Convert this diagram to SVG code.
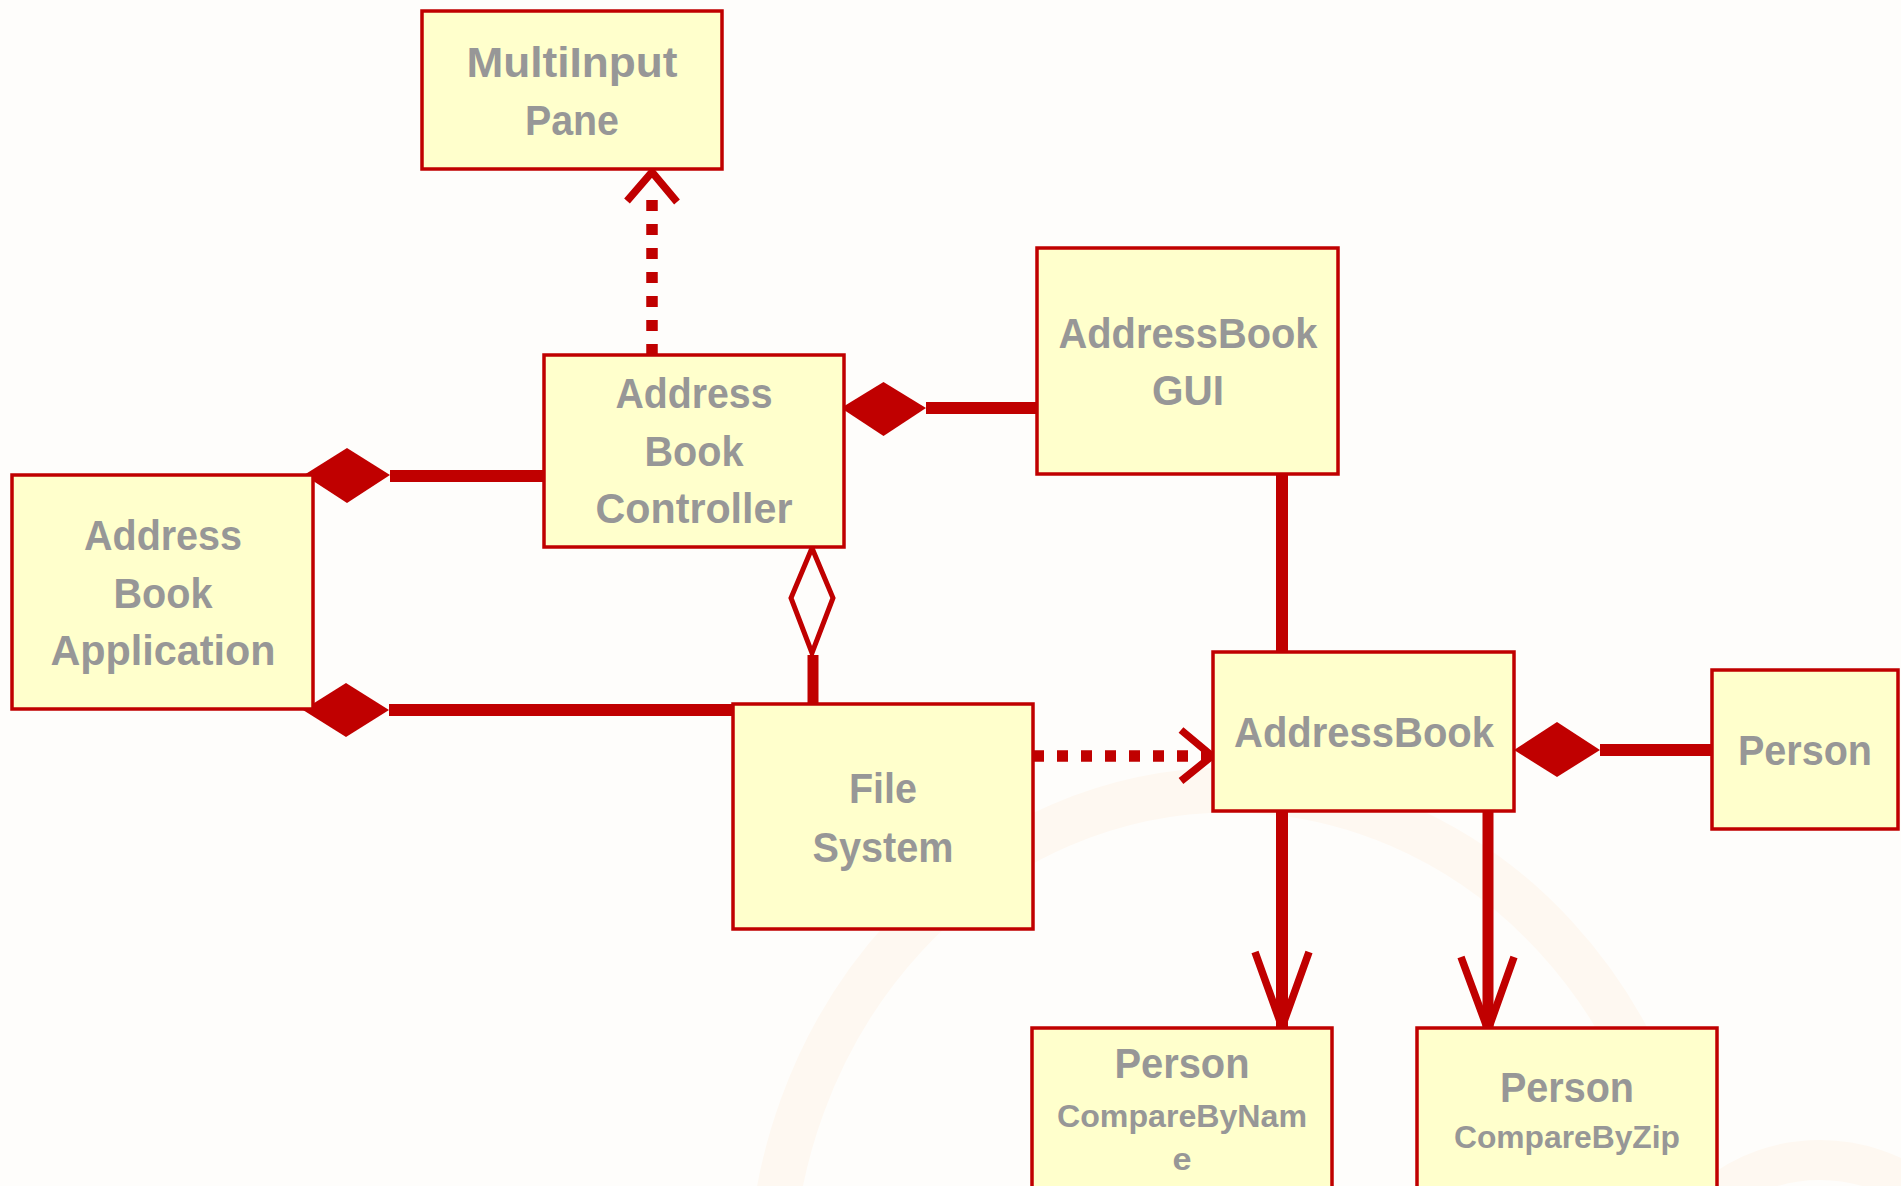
<svg xmlns="http://www.w3.org/2000/svg" width="1901" height="1186" viewBox="0 0 1901 1186">
<style>
.box{fill:#FFFFCC;stroke:#C00000;stroke-width:3.5}
.t{font-family:"Liberation Sans",Arial,sans-serif;font-weight:bold;font-size:42px;fill:#979797;text-anchor:middle}
.s{font-size:32px}
.ln{stroke:#C00000;stroke-width:12;fill:none}
.dash{stroke:#C00000;stroke-width:11.5;fill:none;stroke-dasharray:11 13}
.arm{stroke:#C00000;stroke-width:7.5;fill:none;stroke-linejoin:miter}
.dia{fill:#C00000;stroke:none}
.odia{fill:none;stroke:#C00000;stroke-width:5}
</style>
<rect width="1901" height="1186" fill="#FEFDFB"/>
<ellipse cx="1230" cy="1290" rx="460" ry="500" fill="none" stroke="#FEF8F1" stroke-width="45"/>
<ellipse cx="1820" cy="1290" rx="150" ry="130" fill="none" stroke="#FEF8F1" stroke-width="40"/>

<g id="connectors">
  <path class="dash" d="M652 355 V200"/>
  <polyline class="arm" points="627,201 652,172 677,202"/>
  <path class="ln" d="M390 476 H544"/>
  <polygon class="dia" points="304,475 347,448 390,475 347,503"/>
  <path class="ln" d="M389 710 H733"/>
  <polygon class="dia" points="303,710 346,683 389,710 346,737"/>
  <path class="ln" d="M926 408 H1037"/>
  <polygon class="dia" points="841,408 883.5,382 926,408 883.5,436"/>
  <path class="ln" d="M1600 750 H1712"/>
  <polygon class="dia" points="1514,750 1557,722 1600,750 1557,777"/>
  <path class="ln" d="M813 655 V704" style="stroke-width:11"/>
  <polygon class="odia" points="812,548 791,598 812,653 833,598"/>
  <path class="dash" d="M1033 756 H1208"/>
  <polyline class="arm" points="1181,730 1212,756 1181,781"/>
  <path class="ln" d="M1282 474 V652"/>
  <path class="ln" d="M1282 811 V1027"/>
  <polyline class="arm" points="1255,952 1282,1027 1309,952"/>
  <path class="ln" d="M1488 811 V1030" style="stroke-width:11"/>
  <polyline class="arm" points="1461,957 1488,1030 1514,957"/>
</g>

<g id="multiinputpane">
  <rect class="box" x="422" y="11" width="300" height="158"/>
  <text class="t" x="572" y="77" textLength="211" lengthAdjust="spacingAndGlyphs">MultiInput</text>
  <text class="t" x="572" y="135" textLength="94" lengthAdjust="spacingAndGlyphs">Pane</text>
</g>
<g id="addressbookcontroller">
  <rect class="box" x="544" y="355" width="300" height="192"/>
  <text class="t" x="694" y="408" textLength="157" lengthAdjust="spacingAndGlyphs">Address</text>
  <text class="t" x="694" y="466" textLength="99" lengthAdjust="spacingAndGlyphs">Book</text>
  <text class="t" x="694" y="523" textLength="197" lengthAdjust="spacingAndGlyphs">Controller</text>
</g>
<g id="addressbookapplication">
  <rect class="box" x="12" y="475" width="301" height="234"/>
  <text class="t" x="163" y="550" textLength="158" lengthAdjust="spacingAndGlyphs">Address</text>
  <text class="t" x="163" y="608" textLength="99" lengthAdjust="spacingAndGlyphs">Book</text>
  <text class="t" x="163" y="665" textLength="225" lengthAdjust="spacingAndGlyphs">Application</text>
</g>
<g id="addressbookgui">
  <rect class="box" x="1037" y="248" width="301" height="226"/>
  <text class="t" x="1188" y="348" textLength="259" lengthAdjust="spacingAndGlyphs">AddressBook</text>
  <text class="t" x="1188" y="405" textLength="72" lengthAdjust="spacingAndGlyphs">GUI</text>
</g>
<g id="addressbook">
  <rect class="box" x="1213" y="652" width="301" height="159"/>
  <text class="t" x="1364" y="747" textLength="260" lengthAdjust="spacingAndGlyphs">AddressBook</text>
</g>
<g id="person">
  <rect class="box" x="1712" y="670" width="186" height="159"/>
  <text class="t" x="1805" y="765" textLength="134" lengthAdjust="spacingAndGlyphs">Person</text>
</g>
<g id="filesystem">
  <rect class="box" x="733" y="704" width="300" height="225"/>
  <text class="t" x="883" y="803" textLength="68" lengthAdjust="spacingAndGlyphs">File</text>
  <text class="t" x="883" y="862" textLength="141" lengthAdjust="spacingAndGlyphs">System</text>
</g>
<g id="personcomparebyname">
  <rect class="box" x="1032" y="1028" width="300" height="175"/>
  <text class="t" x="1182" y="1078" textLength="135" lengthAdjust="spacingAndGlyphs">Person</text>
  <text class="t s" x="1182" y="1127" textLength="250" lengthAdjust="spacingAndGlyphs">CompareByNam</text>
  <text class="t s" x="1182" y="1170" textLength="19" lengthAdjust="spacingAndGlyphs">e</text>
</g>
<g id="personcomparebyzip">
  <rect class="box" x="1417" y="1028" width="300" height="175"/>
  <text class="t" x="1567" y="1102" textLength="134" lengthAdjust="spacingAndGlyphs">Person</text>
  <text class="t s" x="1567" y="1148" textLength="226" lengthAdjust="spacingAndGlyphs">CompareByZip</text>
</g>
</svg>
